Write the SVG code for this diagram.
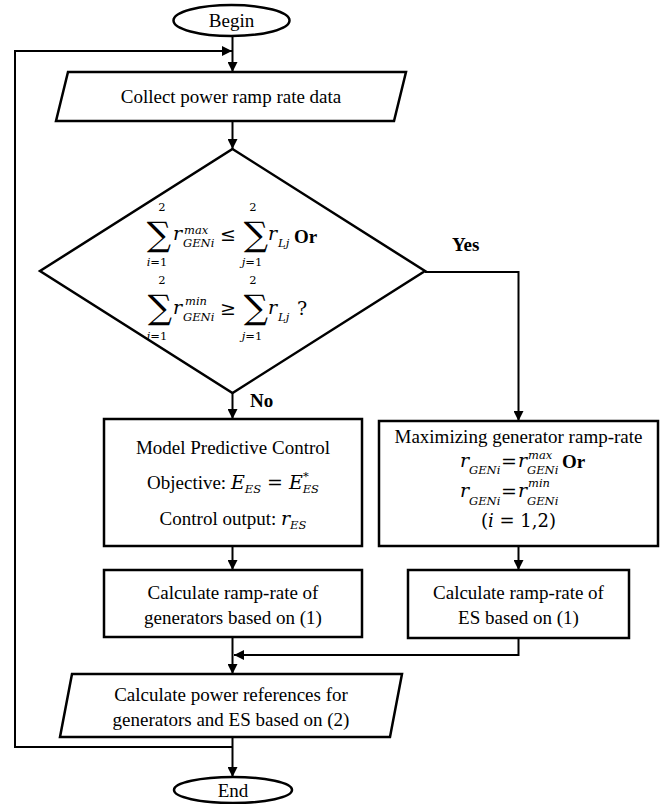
<svg xmlns="http://www.w3.org/2000/svg" width="670" height="804" viewBox="0 0 670 804" font-family="Liberation Serif">
<defs>
<marker id="ah" markerUnits="userSpaceOnUse" markerWidth="10" markerHeight="10" refX="10" refY="5" orient="auto">
<path d="M0,0 L10,5 L0,10 z" fill="#000"/>
</marker>
<style>
.shape{fill:#fff;stroke:#000;stroke-width:2.5}
.conn{fill:none;stroke:#000;stroke-width:2}
text{font-family:Liberation Serif,Times New Roman,serif;font-size:19px;fill:#000}
.c{text-anchor:middle}
.m{font-family:DejaVu Serif,serif;font-style:italic}
.u{font-family:DejaVu Serif,serif;font-style:normal}
.s{font-size:11.5px}
.b{font-weight:bold}
.sig{font-family:DejaVu Serif,serif;font-size:34px}
</style>
</defs>
<rect width="670" height="804" fill="#fff"/>

<g id="connectors">
<path class="conn" d="M232.5,36 V72" marker-end="url(#ah)"/>
<path class="conn" d="M232.5,747 H15 V51 H232" marker-end="url(#ah)"/>
<path class="conn" d="M232.5,121 V149" marker-end="url(#ah)"/>
<path class="conn" d="M232.5,393 V419" marker-end="url(#ah)"/>
<path class="conn" d="M425,272 H518.5 V421" marker-end="url(#ah)"/>
<path class="conn" d="M232.5,546 V570" marker-end="url(#ah)"/>
<path class="conn" d="M518.5,546 V570" marker-end="url(#ah)"/>
<path class="conn" d="M232.5,637 V674" marker-end="url(#ah)"/>
<path class="conn" d="M518.5,638 V655 H234" marker-end="url(#ah)"/>
<path class="conn" d="M232.5,737 V777" marker-end="url(#ah)"/>
<text class="b" x="452" y="251">Yes</text>
<text class="b" x="250" y="407">No</text>
</g>

<g id="begin">
<ellipse class="shape" cx="231.5" cy="20.5" rx="58" ry="15.5"/>
<text class="c" x="231.5" y="27">Begin</text>
</g>

<g id="collect">
<polygon class="shape" points="68,72 406,72 394,121 56,121"/>
<text class="c" x="231" y="103">Collect power ramp rate data</text>
</g>

<g id="decision">
<polygon class="shape" points="232.5,149 425,271 232.5,393 40,271"/>
<text class="u c sig" x="159" y="246">∑</text>
<text class="u c s" x="162" y="211">2</text>
<text class="c s" x="157" y="266"><tspan class="m">i</tspan><tspan class="u">=1</tspan></text>
<text class="m" x="173" y="240">r</text>
<text class="m s" x="184" y="234">max</text>
<text class="m s" x="183" y="247">GENi</text>
<text class="u c" x="228" y="241">≤</text>
<text class="u c sig" x="256" y="246">∑</text>
<text class="u c s" x="253" y="211">2</text>
<text class="c s" x="252" y="266"><tspan class="m">j</tspan><tspan class="u">=1</tspan></text>
<text class="m" x="268" y="240">r</text>
<text class="m s" x="278" y="247">Lj</text>
<text class="b" x="294" y="243">Or</text>

<text class="u c sig" x="160" y="319">∑</text>
<text class="u c s" x="162" y="284">2</text>
<text class="c s" x="157" y="340"><tspan class="m">i</tspan><tspan class="u">=1</tspan></text>
<text class="m" x="173" y="314">r</text>
<text class="m s" x="185" y="305">min</text>
<text class="m s" x="183" y="321">GENi</text>
<text class="u c" x="228" y="315">≥</text>
<text class="u c sig" x="256" y="319">∑</text>
<text class="u c s" x="253" y="284">2</text>
<text class="c s" x="252" y="340"><tspan class="m">j</tspan><tspan class="u">=1</tspan></text>
<text class="m" x="268" y="314">r</text>
<text class="m s" x="278" y="321">Lj</text>
<text class="u" x="297" y="315">?</text>
</g>

<g id="mpc">
<rect class="shape" x="104" y="419" width="258" height="127"/>
<text class="c" x="233" y="454">Model Predictive Control</text>
<text class="c" x="233" y="489">Objective: <tspan class="m">E</tspan><tspan class="m s" dy="4">ES</tspan><tspan class="u" dy="-4"> = </tspan><tspan class="m">E</tspan><tspan class="u s" dy="-9">*</tspan><tspan class="m s" dx="-6" dy="13">ES</tspan></text>
<text class="c" x="233" y="525">Control output: <tspan class="m">r</tspan><tspan class="m s" dy="4">ES</tspan></text>
</g>

<g id="maximize">
<rect class="shape" x="379" y="421" width="279" height="125"/>
<text class="c" x="518.5" y="443">Maximizing generator ramp-rate</text>
<text class="m" x="460" y="467">r</text>
<text class="m s" x="469" y="474">GENi</text>
<text class="u c" x="509" y="468">=</text>
<text class="m" x="518" y="467">r</text>
<text class="m s" x="528" y="458.5">max</text>
<text class="m s" x="527" y="474">GENi</text>
<text class="b" x="562" y="468">Or</text>
<text class="m" x="460" y="497">r</text>
<text class="m s" x="469" y="505">GENi</text>
<text class="u c" x="509" y="498">=</text>
<text class="m" x="518" y="497">r</text>
<text class="m s" x="528" y="487">min</text>
<text class="m s" x="527" y="505">GENi</text>
<text class="u c" x="518.5" y="527" style="font-size:18px">(<tspan class="m">i</tspan> = 1,2)</text>
</g>

<g id="calc-gen">
<rect class="shape" x="104" y="570" width="258" height="67"/>
<text class="c" x="233" y="599">Calculate ramp-rate of</text>
<text class="c" x="233" y="624">generators based on (1)</text>
</g>

<g id="calc-es">
<rect class="shape" x="408" y="570" width="221" height="68"/>
<text class="c" x="518.5" y="599">Calculate ramp-rate of</text>
<text class="c" x="518.5" y="624">ES based on (1)</text>
</g>

<g id="power-ref">
<polygon class="shape" points="72,674 402,674 390,737 60,737"/>
<text class="c" x="231" y="701">Calculate power references for</text>
<text class="c" x="231" y="726">generators and ES based on (2)</text>
</g>

<g id="end">
<ellipse class="shape" cx="233" cy="790" rx="59" ry="13"/>
<text class="c" x="233" y="797">End</text>
</g>
</svg>
